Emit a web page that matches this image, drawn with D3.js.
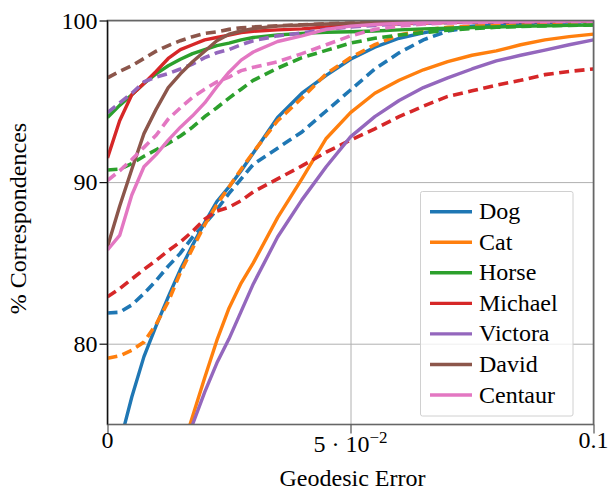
<!DOCTYPE html>
<html>
<head>
<meta charset="utf-8">
<script src="https://cdn.jsdelivr.net/npm/d3@7"></script>
<style>
  html, body { margin: 0; padding: 0; background: #fff; }
  text { font-family: "Liberation Serif", "DejaVu Serif", serif; fill: #000; }
</style>
</head>
<body>
<div id="chart"></div>
<script>
// geodesic error thresholds (shared by every curve)
var errors = [0, 0.0025, 0.005, 0.0075, 0.01, 0.0125, 0.015, 0.0175, 0.02, 0.0225, 0.025, 0.0275, 0.03,
    0.035, 0.04, 0.045, 0.05, 0.055, 0.06, 0.065, 0.07, 0.075, 0.08, 0.085, 0.09, 0.095, 0.1];

var names = ["Dog", "Cat", "Horse", "Michael", "Victora", "David", "Centaur"];

// solid curves
var solidDog = [70.5, 73.8, 76.7, 79.2, 81.1, 82.9, 84.6, 86.1, 87.5, 88.8, 89.7, 90.7, 91.8,
    94.0, 95.5, 96.6, 97.6, 98.35, 98.9, 99.23, 99.5, 99.65, 99.75, 99.82, 99.87, 99.9, 99.93];
var solidCat = [58, 61, 63.5, 66, 68.5, 70.8, 73.1, 75.5, 77.9, 80.2, 82.2, 83.75, 85.0,
    87.8, 90.2, 92.7, 94.3, 95.5, 96.3, 96.95, 97.45, 97.85, 98.12, 98.5, 98.8, 99.0, 99.16];
var solidHorse = [94.0, 94.75, 95.4, 96.1, 96.7, 97.2, 97.6, 97.95, 98.2, 98.45, 98.6, 98.8, 98.95,
    99.1, 99.2, 99.27, 99.3, 99.35, 99.42, 99.48, 99.52, 99.57, 99.6, 99.64, 99.67, 99.7, 99.72];
var solidMichael = [91.5, 93.8, 95.4, 96.1, 96.85, 97.65, 98.2, 98.5, 98.8, 98.95, 99.1, 99.25, 99.33,
    99.42, 99.48, 99.6, 99.68, 99.75, 99.8, 99.84, 99.87, 99.9, 99.92, 99.93, 99.94, 99.95, 99.96];
var solidVictora = [58, 60.5, 63, 65.5, 68, 70.5, 73, 75.0, 77.0, 78.8, 80.3, 82.0, 83.7,
    86.6, 88.9, 90.95, 92.8, 94.05, 95.05, 95.85, 96.45, 97.0, 97.5, 97.85, 98.17, 98.5, 98.8];
var solidDavid = [86.0, 88.5, 90.8, 93.0, 94.5, 95.85, 96.7, 97.45, 98.1, 98.75, 99.15, 99.35, 99.5,
    99.65, 99.72, 99.78, 99.83, 99.87, 99.9, 99.93, 99.95, 99.96, 99.97, 99.98, 99.98, 99.99, 99.99];
var solidCentaur = [85.8, 86.7, 89.2, 90.95, 91.7, 92.6, 93.4, 94.1, 94.9, 95.9, 96.8, 97.55, 98.05,
    98.7, 99.05, 99.45, 99.65, 99.75, 99.82, 99.87, 99.9, 99.92, 99.94, 99.95, 99.96, 99.96, 99.97];

// dashed curves
var dashedDog = [81.9, 81.95, 82.4, 83.1, 83.9, 84.8, 85.6, 86.6, 87.4, 88.3, 89.3, 90.2, 91.1,
    92.1, 93.1, 94.4, 95.7, 97.0, 98.0, 98.8, 99.35, 99.6, 99.72, 99.8, 99.85, 99.88, 99.9];
var dashedCat = [79.1, 79.25, 79.6, 80.1, 81.2, 82.6, 84.4, 85.9, 87.35, 88.6, 89.7, 90.8, 91.85,
    93.8, 95.2, 96.7, 97.7, 98.5, 99.1, 99.4, 99.58, 99.65, 99.7, 99.72, 99.74, 99.76, 99.78];
var dashedHorse = [90.75, 90.8, 91.15, 91.6, 92.0, 92.4, 92.85, 93.4, 94.05, 94.6, 95.2, 95.75, 96.3,
    97.05, 97.7, 98.15, 98.6, 98.9, 99.1, 99.25, 99.4, 99.5, 99.58, 99.63, 99.67, 99.7, 99.72];
var dashedMichael = [82.9, 83.4, 84.0, 84.6, 85.15, 85.75, 86.3, 86.95, 87.7, 88.2, 88.45, 88.85, 89.4,
    90.2, 91.0, 91.85, 92.6, 93.3, 94.05, 94.7, 95.3, 95.65, 96.0, 96.3, 96.65, 96.85, 97.0];
var dashedVictora = [94.3, 94.9, 95.5, 96.2, 96.5, 96.72, 97.0, 97.3, 97.7, 98.0, 98.2, 98.5, 98.75,
    99.05, 99.23, 99.45, 99.6, 99.7, 99.78, 99.83, 99.87, 99.9, 99.92, 99.94, 99.95, 99.96, 99.97];
var dashedDavid = [96.45, 96.85, 97.2, 97.65, 98.1, 98.45, 98.75, 99.0, 99.2, 99.3, 99.45, 99.55, 99.6,
    99.68, 99.74, 99.8, 99.84, 99.87, 99.9, 99.92, 99.93, 99.94, 99.95, 99.96, 99.96, 99.97, 99.97];
var dashedCentaur = [90.1, 90.7, 91.4, 92.15, 92.9, 93.9, 94.6, 95.25, 95.75, 96.2, 96.5, 96.9, 97.1,
    97.45, 97.95, 98.5, 99.05, 99.45, 99.65, 99.78, 99.85, 99.88, 99.9, 99.92, 99.93, 99.94, 99.95];

var xTicks = [0, 0.05, 0.1];
var yTicks = [80, 90, 100];

var solids = [solidDog, solidCat, solidHorse, solidMichael, solidVictora, solidDavid, solidCentaur];
var dashes = [dashedDog, dashedCat, dashedHorse, dashedMichael, dashedVictora, dashedDavid, dashedCentaur];
var colors = d3.schemeCategory10.slice(0, 7);

var width = 608, height = 491;
var plotLeft = 107.5, plotRight = 593.5, plotTop = 20.5, plotBottom = 424.5;

var x = d3.scaleLinear().domain([0, 0.1]).range([plotLeft, plotRight]);
var y = d3.scaleLinear().domain([75, 100]).range([plotBottom, plotTop]);

var svg = d3.select('#chart')
    .append('svg')
    .attr('width', width)
    .attr('height', height);

svg.append('defs').append('clipPath')
    .attr('id', 'plotclip')
    .append('rect')
    .attr('x', plotLeft).attr('y', plotTop)
    .attr('width', plotRight - plotLeft).attr('height', plotBottom - plotTop);

// grid
svg.append('g')
    .attr('transform', 'translate(0,' + plotBottom + ')')
    .call(d3.axisBottom(x).tickValues(xTicks).tickSize(-(plotBottom - plotTop)).tickFormat(''))
    .call(function (g) { g.select('.domain').remove(); })
    .selectAll('line').attr('stroke', '#b0b0b0').attr('stroke-width', 1);
svg.append('g')
    .attr('transform', 'translate(' + plotLeft + ',0)')
    .call(d3.axisLeft(y).tickValues(yTicks).tickSize(-(plotRight - plotLeft)).tickFormat(''))
    .call(function (g) { g.select('.domain').remove(); })
    .selectAll('line').attr('stroke', '#b0b0b0').attr('stroke-width', 1);

var line = d3.line()
    .x(function (d, i) { return x(errors[i]); })
    .y(function (d) { return y(d); });

var curves = svg.append('g').attr('clip-path', 'url(#plotclip)');
names.forEach(function (name, i) {
    curves.append('path')
        .attr('d', line(solids[i]))
        .attr('fill', 'none')
        .attr('stroke', colors[i])
        .attr('stroke-width', 3.4)
        .attr('stroke-linejoin', 'round');
    curves.append('path')
        .attr('d', line(dashes[i]))
        .attr('fill', 'none')
        .attr('stroke', colors[i])
        .attr('stroke-width', 3.6)
        .attr('stroke-dasharray', '10,5.5');
});

// frame
svg.append('rect')
    .attr('x', plotLeft).attr('y', plotTop)
    .attr('width', plotRight - plotLeft).attr('height', plotBottom - plotTop)
    .attr('fill', 'none')
    .attr('stroke', '#666')
    .attr('stroke-width', 1.6);
svg.append('line')
    .attr('x1', plotLeft).attr('x2', plotLeft)
    .attr('y1', plotTop).attr('y2', plotBottom)
    .attr('stroke', '#111')
    .attr('stroke-width', 1.2);

// y axis ticks and labels
var yAxis = svg.append('g')
    .attr('transform', 'translate(' + plotLeft + ',0)')
    .call(d3.axisLeft(y).tickValues(yTicks).tickSize(8).tickPadding(2));
yAxis.select('.domain').remove();
yAxis.selectAll('line').attr('stroke', '#111').attr('stroke-width', 1.2);
yAxis.selectAll('text')
    .attr('font-family', '"Liberation Serif", serif')
    .attr('font-size', 24)
    .attr('fill', '#000');

// x axis ticks
var xAxis = svg.append('g')
    .attr('transform', 'translate(0,' + plotBottom + ')')
    .call(d3.axisBottom(x).tickValues(xTicks).tickSize(9).tickFormat(''));
xAxis.select('.domain').remove();
xAxis.selectAll('line').attr('stroke', '#555').attr('stroke-width', 1.2);

// x tick labels
svg.append('text').attr('x', x(0)).attr('y', 448).attr('text-anchor', 'middle')
    .attr('font-size', 24).text('0');
var mid = svg.append('text').attr('x', x(0.05)).attr('y', 452).attr('text-anchor', 'middle')
    .attr('font-size', 24);
mid.append('tspan').text('5 · 10');
mid.append('tspan').attr('dy', -9).attr('font-size', 17).text('−2');
svg.append('text').attr('x', x(0.1)).attr('y', 448).attr('text-anchor', 'middle')
    .attr('font-size', 24).text('0.1');

// axis titles
svg.append('text')
    .attr('x', (plotLeft + plotRight) / 2 + 2)
    .attr('y', 486)
    .attr('text-anchor', 'middle')
    .attr('font-size', 24)
    .text('Geodesic Error');
svg.append('text')
    .attr('transform', 'translate(26,' + ((plotTop + plotBottom) / 2 - 4) + ') rotate(-90)')
    .attr('text-anchor', 'middle')
    .attr('font-size', 24)
    .text('% Correspondences');

// legend
var legend = svg.append('g');
legend.append('rect')
    .attr('x', 420.5).attr('y', 191.5)
    .attr('width', 152.5).attr('height', 224.5)
    .attr('rx', 2)
    .attr('fill', '#fff')
    .attr('fill-opacity', 0.8)
    .attr('stroke', '#d0d0d0')
    .attr('stroke-width', 1);

var item = legend.selectAll('g.item')
    .data(names)
    .enter().append('g')
    .attr('class', 'item')
    .attr('transform', function (d, i) { return 'translate(430,' + (211.7 + i * 30.55) + ')'; });
item.append('line')
    .attr('x1', 0).attr('x2', 42)
    .attr('stroke', function (d, i) { return colors[i]; })
    .attr('stroke-width', 3.4);
item.append('text')
    .attr('x', 49)
    .attr('y', 7.5)
    .attr('font-size', 24)
    .text(function (d) { return d; });
</script>
</body>
</html>
